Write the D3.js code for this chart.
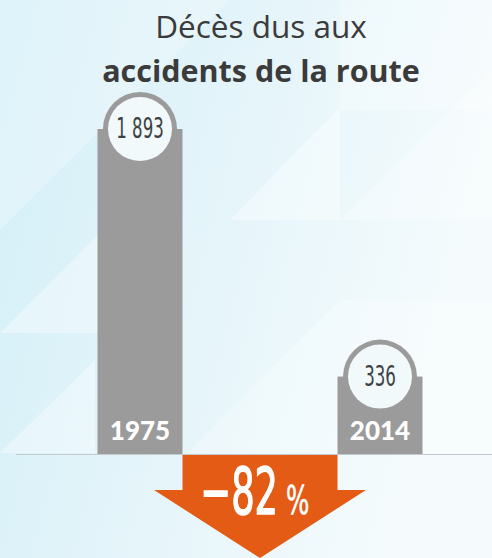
<!DOCTYPE html>
<html>
<head>
<meta charset="utf-8">
<script src="https://cdn.jsdelivr.net/npm/d3@7"></script>
<style>
  body { margin: 0; }
  svg { display: block; }
</style>
</head>
<body>
<div id="chart"></div>
<script>
var years = ["1975", "2014"];
var deaths = [1893, 336];
var valueLabels = ["1 893", "336"];
var titleLines = ["Décès dus aux", "accidents de la route"];

var width = 492, height = 558;
var baseline = 454;
var barW = 85;

var svg = d3.select("#chart").append("svg")
    .attr("width", width)
    .attr("height", height);

// background
var defs = svg.append("defs");
var grad = defs.append("linearGradient")
    .attr("id", "bg")
    .attr("x1", "0%").attr("y1", "0%")
    .attr("x2", "100%").attr("y2", "30%");
grad.append("stop").attr("offset", "0%").attr("stop-color", "#d3eff8");
grad.append("stop").attr("offset", "55%").attr("stop-color", "#e6f5fa");
grad.append("stop").attr("offset", "100%").attr("stop-color", "#f5fbfd");

svg.append("rect")
    .attr("width", width)
    .attr("height", height)
    .attr("fill", "url(#bg)");

// soft triangles of the backdrop
var shapes = [
  [[0, 0], [230, 0], [0, 230]],
  [[230, 220], [340, 107], [340, 220]],
  [[340, 0], [492, 0], [492, 110], [340, 110]],
  [[0, 333], [100, 233], [100, 333]],
  [[187, 453], [340, 300], [492, 300], [492, 453]],
  [[0, 453], [95, 360], [95, 453]],
  [[340, 220], [492, 70], [492, 220]]
];
svg.selectAll("polygon.bgshape")
    .data(shapes)
    .enter()
    .append("polygon")
    .attr("class", "bgshape")
    .attr("points", function(d) { return d.join(" "); })
    .attr("fill", "#ffffff")
    .attr("opacity", function(d, i) { return i % 2 ? 0.35 : 0.25; });

// title
svg.selectAll("text.title")
    .data(titleLines)
    .enter()
    .append("text")
    .attr("class", "title")
    .attr("x", 261)
    .attr("y", function(d, i) { return i == 0 ? 38 : 82; })
    .attr("text-anchor", "middle")
    .attr("font-family", "'Open Sans', sans-serif")
    .attr("font-size", function(d, i) { return i == 0 ? 31.5 : 30.5; })
    .attr("font-weight", function(d, i) { return i == 0 ? 400 : 700; })
    .attr("fill", "#3b3b3b")
    .text(function(d) { return d; });

// scales
var x = d3.scalePoint()
    .domain(years)
    .range([140, 380]);

var y = d3.scaleLinear()
    .domain([0, d3.max(deaths)])
    .range([430, 129]);

var data = years.map(function(yr, i) {
  return { year: yr, value: deaths[i], label: valueLabels[i] };
});

var bars = svg.selectAll("g.bar")
    .data(data)
    .enter()
    .append("g")
    .attr("class", "bar");

bars.append("circle")
    .attr("cx", function(d) { return x(d.year); })
    .attr("cy", function(d) { return y(d.value); })
    .attr("r", 37)
    .attr("fill", "#9b9b9b");

bars.append("rect")
    .attr("x", function(d) { return x(d.year) - barW / 2; })
    .attr("y", function(d) { return y(d.value); })
    .attr("width", barW)
    .attr("height", function(d) { return baseline - y(d.value); })
    .attr("fill", "#9b9b9b");

bars.append("circle")
    .attr("cx", function(d) { return x(d.year); })
    .attr("cy", function(d) { return y(d.value); })
    .attr("r", 32)
    .attr("fill", "#f1f9fb");

bars.append("text")
    .attr("transform", function(d) {
      return "translate(" + x(d.year) + "," + (y(d.value) + 9) + ") scale(0.66,1)";
    })
    .attr("text-anchor", "middle")
    .attr("font-family", "'Liberation Sans Narrow', 'DejaVu Sans Condensed', sans-serif")
    .attr("font-size", 28)
    .attr("fill", "#3d4244")
    .text(function(d) { return d.label; });

bars.append("text")
    .attr("x", function(d) { return x(d.year); })
    .attr("y", 440)
    .attr("text-anchor", "middle")
    .attr("font-family", "Lato, sans-serif")
    .attr("font-weight", 900)
    .attr("font-size", 26)
    .attr("fill", "#ffffff")
    .text(function(d) { return d.year; });

// orange arrow
var sl = x(years[0]) + barW / 2, sr = x(years[1]) - barW / 2;
var mid = (sl + sr) / 2;
var arrow = [
  [sl, baseline], [sr, baseline], [sr, 490], [mid + 106, 490],
  [mid, 558], [mid - 106, 490], [sl, 490]
];
svg.append("polygon")
    .attr("points", arrow.join(" "))
    .attr("fill", "#e35b14");

// baseline
svg.append("line")
    .attr("x1", 16).attr("x2", width)
    .attr("y1", baseline + 0.5).attr("y2", baseline + 0.5)
    .attr("stroke", "#c3cbce")
    .attr("stroke-width", 1);

var pct = Math.round((deaths[1] - deaths[0]) / deaths[0] * 100);

svg.append("text")
    .attr("transform", "translate(278,514) scale(0.64,1)")
    .attr("text-anchor", "end")
    .attr("font-family", "'Liberation Sans Narrow', 'DejaVu Sans Condensed', sans-serif")
    .attr("font-size", 64)
    .attr("fill", "#ffffff")
    .attr("stroke", "#ffffff")
    .attr("stroke-width", 1.4)
    .text("\u2212" + Math.abs(pct));

svg.append("text")
    .attr("transform", "translate(286,514) scale(0.7,1)")
    .attr("font-family", "'Liberation Sans Narrow', 'DejaVu Sans Condensed', sans-serif")
    .attr("font-size", 39)
    .attr("fill", "#ffffff")
    .attr("stroke", "#ffffff")
    .attr("stroke-width", 0.6)
    .text("%");
</script>
</body>
</html>
